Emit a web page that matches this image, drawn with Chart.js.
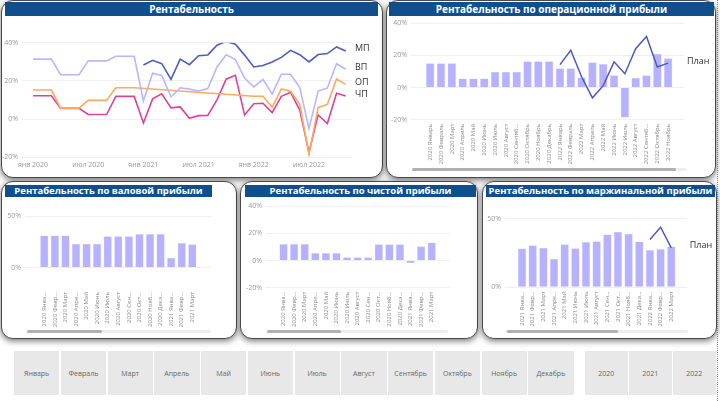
<!DOCTYPE html>
<html lang="ru">
<head>
<meta charset="UTF-8">
<title>Рентабельность</title>
<script src="https://cdn.jsdelivr.net/npm/chart.js"></script>
<style>
    body { margin: 0; width: 720px; height: 401px; background: #fff; position: relative; overflow: hidden; font-family: "Open Sans", sans-serif; }
    .panel { position: absolute; background: #fff; border: 1.5px solid #4a4a4a; border-radius: 12px; box-shadow: 0 2px 6px rgba(0,0,0,0.55); box-sizing: border-box; }
    .title { position: absolute; background: #114f8c; color: #fff; font-weight: bold; text-align: center; white-space: nowrap; }
    .title.big { height: 14px; line-height: 14px; font-size: 10px; }
    .title.small { height: 12px; line-height: 12px; font-size: 9.5px; }
    canvas { position: absolute; }
    .track { position: absolute; height: 3px; background: #eeeeee; border-radius: 2px; }
    .thumb { position: absolute; height: 3px; background: #b0b0b0; border-radius: 2px; }
    .slicer { position: absolute; top: 351px; height: 44px; background: #e8e8e8; color: #666; font-size: 7px; display: flex; align-items: center; justify-content: center; }
    .dots { position: absolute; left: 717px; top: 0; width: 0; height: 401px; border-left: 1px dotted #888; }
</style>
</head>
<body>
<div class="panel" style="left:1px;top:0;width:382px;height:178px"></div>
<div class="panel" style="left:386px;top:0;width:330px;height:178px"></div>
<div class="panel" style="left:1px;top:181px;width:236px;height:158px"></div>
<div class="panel" style="left:240px;top:181px;width:238px;height:158px"></div>
<div class="panel" style="left:482px;top:181px;width:235px;height:158px"></div>

<div class="title big" style="left:5px;top:2px;width:373px">Рентабельность</div>
<div class="title big" style="left:389px;top:2px;width:325px">Рентабельность по операционной прибыли</div>
<div class="title small" style="left:5px;top:185px;width:207px">Рентабельность по валовой прибыли</div>
<div class="title small" style="left:245px;top:185px;width:231px">Рентабельность по чистой прибыли</div>
<div class="title small" style="left:486px;top:185px;width:229px">Рентабельность по маржинальной прибыли</div>

<canvas id="allChart" width="383" height="148" style="left:0;top:30px"></canvas>
<canvas id="opChart" width="331" height="158" style="left:385px;top:10px"></canvas>
<canvas id="vpChart" width="234" height="132" style="left:2px;top:198px"></canvas>
<canvas id="chpChart" width="236" height="132" style="left:241px;top:198px"></canvas>
<canvas id="mpChart" width="234" height="132" style="left:483px;top:198px"></canvas>

<div class="track" style="left:412px;top:168px;width:275px"></div>
<div class="thumb" style="left:412px;top:168px;width:264px"></div>
<div class="track" style="left:27px;top:330px;width:184px"></div>
<div class="thumb" style="left:27px;top:330px;width:75px"></div>
<div class="track" style="left:267px;top:330px;width:181px"></div>
<div class="thumb" style="left:267px;top:330px;width:74px"></div>
<div class="track" style="left:505px;top:330px;width:183px"></div>
<div class="thumb" style="left:507px;top:330px;width:111px"></div>

<div id="slicers"></div>
<div class="dots"></div>

<script>
// месяцы янв 2020 .. ноя 2022 (35 точек)
const years = ['2020', '2021', '2022'];
const slicerMonths = ['Январь', 'Февраль', 'Март', 'Апрель', 'Май', 'Июнь', 'Июль', 'Август', 'Сентябрь', 'Октябрь', 'Ноябрь', 'Декабрь'];
const tickMonths = ['Январь', 'Февраль', 'Март', 'Апрель', 'Май', 'Июнь', 'Июль', 'Август', 'Сентяб...', 'Октябрь', 'Ноябрь', 'Декабрь'];
const shortMonths = ['Янва...', 'Февр...', 'Март', 'Апре...', 'Май', 'Июнь', 'Июль', 'Август', 'Сен...', 'Окт...', 'Нояб...', 'Дека...'];
const lineTicks = ['янв 2020', 'июл 2020', 'янв 2021', 'июл 2021', 'янв 2022', 'июл 2022'];

const mp = [null, null, null, null, null, null, null, null, null, null, null, null,
    28.3, 30.8, 29, 20.8, 31.4, 28.5, 33.2, 33.6, 38.7, 40.7, 39.2, 33.5,
    27.3, 28.1, 29.9, 32.3, 36, 33.7, 29.9, 33.8, 34.3, 37.8, 35.7];
const vp = [31.4, 31.4, 31.4, 23.2, 23.2, 23.2, 30.5, 30.5, 30.5, 32.9, 32.9, 32.9,
    9.5, 24, 22.8, 11.6, 16.4, 15.7, 14.7, 16, 27.3, 33.7, 31.2, 21.5,
    16.9, 20.8, 13.1, 23.5, 23.5, 16.5, -4.9, 14.7, 16.3, 29, 26.1];
const op = [15.2, 15.2, 15.2, 5.7, 5.7, 5.7, 9.8, 9.8, 9.8, 16.4, 16.4, 16.4,
    null, null, null, null, null, null, null, null, null, null, null, null,
    12, 12, 6.2, 15.8, 14.6, 7.7, -18.6, 6.1, 7.7, 21, 18.2];
const chp = [12.2, 12.2, 12.2, 5.6, 5.6, 5.6, 2.4, 2.4, 2.4, 11.9, 11.9, 11.9,
    -2, 10.6, 13.2, 5.9, 6.4, 0.4, 1.8, 1.9, 10.1, 20.9, 22.9, 2.1,
    8, 8.3, 3.4, 11.9, 14, 4.7, -17.5, 2.2, -2.3, 13.5, 12.1];

const planOp = [14.3, 23.2, 6.7, -6.4, 1.2, 16, 8.6, 24.2, 31.8, 12.8, 15.2]; // 2022 янв..ноя
const planMp = [34.9, 43.9, 28.8];                                           // 2022 янв..мар

const monthIdx = [];
years.forEach(y => slicerMonths.forEach((m, k) => monthIdx.push({ y, k })));
monthIdx.length = 35;

// какие месяцы попадают в столбчатые диаграммы
const opBars = monthIdx.map((m, i) => i).filter(i => op[i] !== null);
const vpBars = monthIdx.map((m, i) => i).slice(0, 15);
const chpBars = vpBars;
const mpBars = monthIdx.map((m, i) => i).slice(12, 27);

Chart.defaults.font.family = '"Open Sans", sans-serif';
Chart.defaults.color = '#999';

const endLabels = {
    id: 'endLabels',
    afterDatasetsDraw(chart) {
        const { ctx, chartArea } = chart;
        ctx.save();
        ctx.font = '9px "Open Sans", sans-serif';
        ctx.fillStyle = '#333';
        ctx.textBaseline = 'middle';
        chart.data.datasets.forEach((ds, i) => {
            if (!ds.endLabel) return;
            const pts = chart.getDatasetMeta(i).data;
            const last = pts[pts.length - 1];
            ctx.fillText(ds.endLabel, chartArea.right + 3, last.y - 2);
        });
        ctx.restore();
    }
};

function yAxis(width, min, max, ticks) {
    return {
        min, max,
        afterFit: s => { s.width = width; },
        afterBuildTicks: s => { s.ticks = ticks.map(v => ({ value: v })); },
        grid: { color: '#efefef', drawTicks: false },
        border: { display: false },
        ticks: { font: { size: 7 }, padding: 4, callback: v => v + '%' }
    };
}

function barXAxis(height, min, max, labels) {
    return {
        type: 'linear', min, max,
        afterFit: s => { s.height = height; },
        afterBuildTicks: s => { s.ticks = labels.map((l, i) => ({ value: i })); },
        grid: { display: false, drawTicks: false },
        border: { display: false },
        ticks: { font: { size: 6 }, color: '#888', padding: 4, autoSkip: false, maxRotation: 90, minRotation: 90,
                 callback: v => labels[v] }
    };
}

const lavender = '#b6b2ff';
const planColor = '#4a5bbd';

function barChart(id, idx, series, labels, opts, plan) {
    const datasets = [{
        type: 'bar',
        data: idx.map((m, i) => ({ x: i, y: series[m] })),
        backgroundColor: lavender,
        borderColor: '#d8d6ff',
        borderWidth: 0.5,
        categoryPercentage: 1,
        barPercentage: 0.78,
        order: 2
    }];
    if (plan) {
        datasets.push({
            type: 'line',
            data: plan.map((v, i) => ({ x: plan.start + i, y: v })),
            borderColor: planColor,
            borderWidth: 1.5,
            pointRadius: 0,
            endLabel: 'План',
            order: 1
        });
    }
    new Chart(document.getElementById(id), {
        data: { datasets },
        options: {
            responsive: false,
            animation: false,
            layout: { padding: { top: opts.top, right: opts.right } },
            plugins: { legend: { display: false }, tooltip: { enabled: false } },
            scales: {
                x: barXAxis(opts.xh, opts.xmin, opts.xmax, labels),
                y: yAxis(opts.yw, opts.ymin, opts.ymax, opts.ticks)
            }
        },
        plugins: [endLabels]
    });
}

// общая линейная диаграмма
const lineSeries = [
    { label: 'ВП', data: vp, color: '#b9b6ff' },
    { label: 'ОП', data: op, color: '#ffa95c' },
    { label: 'ЧП', data: chp, color: '#d8439d' },
    { label: 'МП', data: mp, color: '#4c5fbf' }
];
new Chart(document.getElementById('allChart'), {
    type: 'line',
    data: {
        datasets: lineSeries.map(s => ({
            data: s.data.map((v, i) => ({ x: i, y: v })),
            borderColor: s.color,
            borderWidth: 1.6,
            pointRadius: 0,
            spanGaps: true,
            endLabel: s.label
        }))
    },
    options: {
        responsive: false,
        animation: false,
        layout: { padding: { top: 12.7, right: 31 } },
        plugins: { legend: { display: false }, tooltip: { enabled: false } },
        scales: {
            x: {
                type: 'linear', min: -1.2, max: 34.68,
                afterFit: s => { s.height = 20.7; },
                afterBuildTicks: s => { s.ticks = lineTicks.map((t, i) => ({ value: i * 6 })); },
                grid: { display: false, drawTicks: false },
                border: { display: false },
                ticks: { font: { size: 7 }, padding: 3, maxRotation: 0, callback: v => lineTicks[v / 6] }
            },
            y: yAxis(22, -20, 40, [-20, 0, 20, 40])
        }
    },
    plugins: [endLabels]
});

const fullLabel = i => monthIdx[i].y + ' ' + tickMonths[monthIdx[i].k];
const shortLabel = i => monthIdx[i].y + ' ' + shortMonths[monthIdx[i].k];

const planOpSeries = planOp.slice(); planOpSeries.start = opBars.indexOf(24);
const planMpSeries = planMp.slice(); planMpSeries.start = mpBars.indexOf(24);

barChart('opChart', opBars, op, opBars.map(fullLabel),
    { top: 13.3, right: 33 - 1, xh: 48.3, yw: 26, xmin: -1.225, xmax: 22.92, ymin: -20, ymax: 40, ticks: [-20, 0, 20, 40] },
    planOpSeries);
barChart('vpChart', vpBars, vp, vpBars.map(shortLabel),
    { top: 7.4, right: 25, xh: 42, yw: 23, xmin: -1.236, xmax: 15.18, ymin: -20, ymax: 60, ticks: [0, 50] });
barChart('chpChart', chpBars, chp, chpBars.map(shortLabel),
    { top: 6.7, right: 27, xh: 42.3, yw: 25, xmin: -1.08, xmax: 15.15, ymin: -20, ymax: 40, ticks: [-20, 0, 20, 40] });
barChart('mpChart', mpBars, mp, mpBars.map(shortLabel),
    { top: 14.1, right: 30.3, xh: 42.7, yw: 22, xmin: -1.03, xmax: 14.88, ymin: 0, ymax: 55, ticks: [0, 50] },
    planMpSeries);

// срезы
const slicers = document.getElementById('slicers');
const mw = (575 - 14) / 12;
slicerMonths.forEach((m, i) => {
    const d = document.createElement('div');
    d.className = 'slicer';
    d.style.left = (14 + i * mw) + 'px';
    d.style.width = (mw - 1.5) + 'px';
    d.textContent = m;
    slicers.appendChild(d);
});
years.forEach((y, i) => {
    const d = document.createElement('div');
    d.className = 'slicer';
    d.style.left = (585 + i * 44) + 'px';
    d.style.width = '42.5px';
    d.textContent = y;
    slicers.appendChild(d);
});
</script>
</body>
</html>
